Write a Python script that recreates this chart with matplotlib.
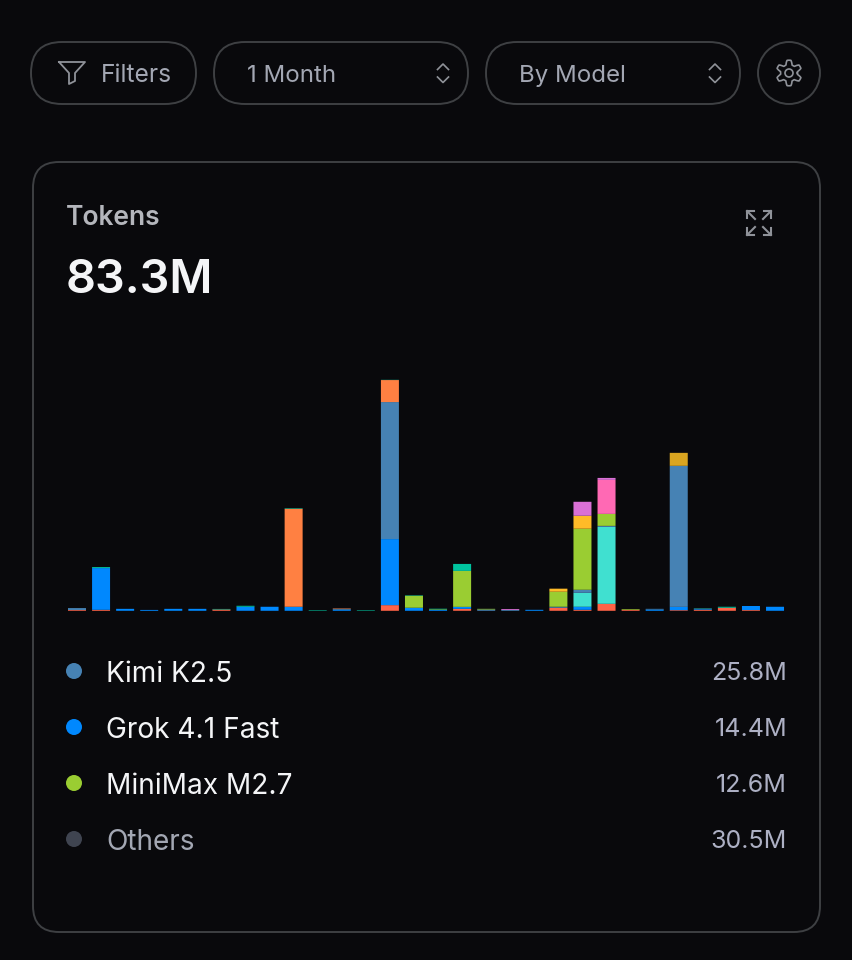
import numpy as np
import matplotlib
matplotlib.use('Agg')
import matplotlib.pyplot as plt
from matplotlib.patches import FancyBboxPatch, Circle

plt.rcParams['font.family'] = ['Inter', 'DejaVu Sans']

# token counts per day, millions, stacked bottom to top in this order
tomato    = [.07, .09, 0, 0, 0, 0, .12, 0, 0, 0, 0, 0, 0, .52, 0, 0, .18, 0, 0, 0, .28, .09, .64, .09, 0, .06, .09, .28, .07, 0]
grok      = [0, 3.83, .18, .08, .18, .18, 0, .37, .37, .37, 0, .09, 0, 6.06, .28, .09, .18, 0, 0, .09, 0, .28, 0, 0, .12, .30, .06, 0, .37, .37]
turquoise = [0, 0, 0, 0, 0, 0, 0, 0, 0, 0, 0, 0, 0, 0, 0, 0, 0, 0, 0, 0, 0, 1.28, 7.06, 0, 0, 0, 0, 0, 0, 0]
kimi      = [.18, 0, 0, 0, 0, 0, 0, 0, 0, 0, 0, .09, 0, 12.57, 0, 0, 0, .12, .08, 0, .09, .28, .09, 0, .06, 12.94, .05, 0, 0, 0]
minimax   = [0, 0, 0, 0, 0, 0, 0, 0, 0, 0, 0, 0, 0, 0, 1.1, .05, 3.3, .06, 0, 0, 1.38, 5.6, 1.1, .06, 0, 0, 0, 0, 0, 0]
amber     = [0, 0, 0, 0, 0, 0, 0, 0, 0, 0, 0, 0, 0, 0, 0, 0, 0, 0, 0, 0, .28, 1.19, 0, 0, 0, 0, 0, 0, 0, 0]
teal      = [0, .09, 0, 0, 0, 0, .05, .09, 0, 0, .05, 0, .05, 0, .04, .05, .64, 0, 0, 0, 0, 0, 0, 0, 0, 0, .03, .09, 0, 0]
orange    = [0, 0, 0, 0, 0, 0, 0, 0, 0, 8.99, 0, .04, 0, 2.02, 0, 0, 0, 0, 0, 0, 0, 0, 0, 0, 0, 0, 0, 0, 0, 0]
hotpink   = [0, 0, 0, 0, 0, 0, 0, 0, 0, 0, 0, 0, 0, 0, 0, 0, 0, 0, 0, 0, 0, 0, 3.12, 0, 0, 0, 0, 0, 0, 0]
orchid    = [0, 0, 0, 0, 0, 0, 0, 0, 0, 0, 0, 0, 0, 0, 0, 0, 0, 0, .08, 0, 0, 1.28, .18, 0, 0, 0, 0, 0, 0, 0]
golden    = [0, 0, 0, 0, 0, 0, 0, 0, 0, 0, 0, 0, 0, 0, 0, 0, 0, 0, 0, 0, 0, 0, 0, 0, 0, 1.19, 0, 0, 0, 0]
top_teal  = [0, 0, 0, 0, 0, 0, 0, 0, 0, .05, 0, 0, 0, .02, 0, 0, 0, 0, 0, 0, 0, 0, 0, 0, 0, 0, 0, 0, 0, 0]

series = [(tomato, '#FF6347'), (grok, '#0088FE'), (turquoise, '#40E0D0'), (kimi, '#4682B4'),
          (minimax, '#9ACD32'), (amber, '#FFBB28'), (teal, '#00C49F'), (orange, '#FF8042'),
          (hotpink, '#FF69B4'), (orchid, '#DA70D6'), (golden, '#DAA520'), (top_teal, '#00C49F')]

legend_names = ['Kimi K2.5', 'Grok 4.1 Fast', 'MiniMax M2.7', 'Others']
legend_vals = ['25.8M', '14.4M', '12.6M', '30.5M']
legend_cols = ['#4682B4', '#0088FE', '#9ACD32', '#3F4450']

bg = '#09090C'
edge = '#3E4043'
grey = '#A3A7B3'
icon = '#8F9299'

fig = plt.figure(figsize=(8.52, 9.6), dpi=100, facecolor=bg)

# overlay in pixel coordinates for the surrounding page
ui = fig.add_axes([0, 0, 1, 1])
ui.set_xlim(0, 852)
ui.set_ylim(960, 0)
ui.axis('off')


def box(x0, y0, x1, y1, r):
    ui.add_patch(FancyBboxPatch((x0 + r, y0 + r), x1 - x0 - 2 * r, y1 - y0 - 2 * r,
                                boxstyle='round,pad=%g,rounding_size=%g' % (r, r),
                                fc='none', ec=edge, lw=1.4))


box(31, 42, 196, 104, 31)
box(214, 42, 468, 104, 31)
box(486, 42, 740, 104, 31)
ui.add_patch(Circle((789, 73), 31, fc='none', ec=edge, lw=1.4))
box(33, 162, 820, 932, 26)

ui.text(101, 82, 'Filters', color=grey, fontsize=17.7)
ui.text(247, 82, '1 Month', color=grey, fontsize=17.3)
ui.text(519, 82, 'By Model', color=grey, fontsize=17.3)

# funnel
ui.plot([59, 85, 75, 75, 69, 69, 59], [62, 62, 73, 81, 84, 73, 62], color=icon, lw=1.3, solid_joinstyle='round')

# up/down chevrons
for cx in [443, 715]:
    ui.plot([cx - 5.5, cx, cx + 5.5], [69.5, 64, 69.5], color=icon, lw=1.2)
    ui.plot([cx - 5.5, cx, cx + 5.5], [77, 82.5, 77], color=icon, lw=1.2)

# gear
th = np.linspace(0, 2 * np.pi, 361)
rad = 10.6 + 2.2 * np.clip(1.6 * np.cos(6 * (th + np.pi / 2)), -1, 1)
ui.plot(789 + rad * np.cos(th), 73 + rad * np.sin(th), color=icon, lw=1.2)
ui.add_patch(Circle((789, 73), 4, fc='none', ec=icon, lw=1.2))

# expand icon
for sx, sy in [(-1, -1), (1, -1), (-1, 1), (1, 1)]:
    ui.plot([759 + sx * 4, 759 + sx * 12], [223 + sy * 4, 223 + sy * 12], color=icon, lw=1.5)
    ui.plot([759 + sx * 12, 759 + sx * 12, 759 + sx * 5], [223 + sy * 5, 223 + sy * 12, 223 + sy * 12], color=icon, lw=1.5)

ui.text(66, 225, 'Tokens', color='#B4B6BC', fontsize=19, fontweight='semibold')
ui.text(66, 293, '83.3M', color='#F4F5F7', fontsize=33.7, fontweight='semibold')

# legend rows
for i, (name, val, col) in enumerate(zip(legend_names, legend_vals, legend_cols)):
    y = 671 + 56 * i
    ui.add_patch(Circle((74, y), 8, fc=col, ec='none'))
    ui.text(106.5, y + 10.5, name, color=grey if name == 'Others' else '#F4F5F7', fontsize=20.2)
    ui.text(787, y + 9, val, color='#ADB0C4', fontsize=18, ha='right')

# bars, axes placed so that day 0 sits at x=77 and the baseline at y=610.8
px_per_m = 10.9
pitch = 24.07
top_px = 370.0
base_px = 610.8
left_px = 77 - pitch / 2
right_px = left_px + 30 * pitch
ax = fig.add_axes([left_px / 852, 1 - base_px / 960, (right_px - left_px) / 852, (base_px - top_px) / 960])
ax.set_facecolor('none')
ax.set_xlim(-0.5, 29.5)
ax.set_ylim(0, (base_px - top_px) / px_per_m)
ax.axis('off')

days = np.arange(30)
bottom = np.zeros(30)
for vals, col in series:
    vals = np.array(vals)
    bars = ax.bar(days, vals, width=18 / pitch, bottom=bottom, color=col, linewidth=0)
    for b in bars:
        b.set_snap(False)
    bottom += vals

fig.savefig('out.png', dpi=100, facecolor=bg)
